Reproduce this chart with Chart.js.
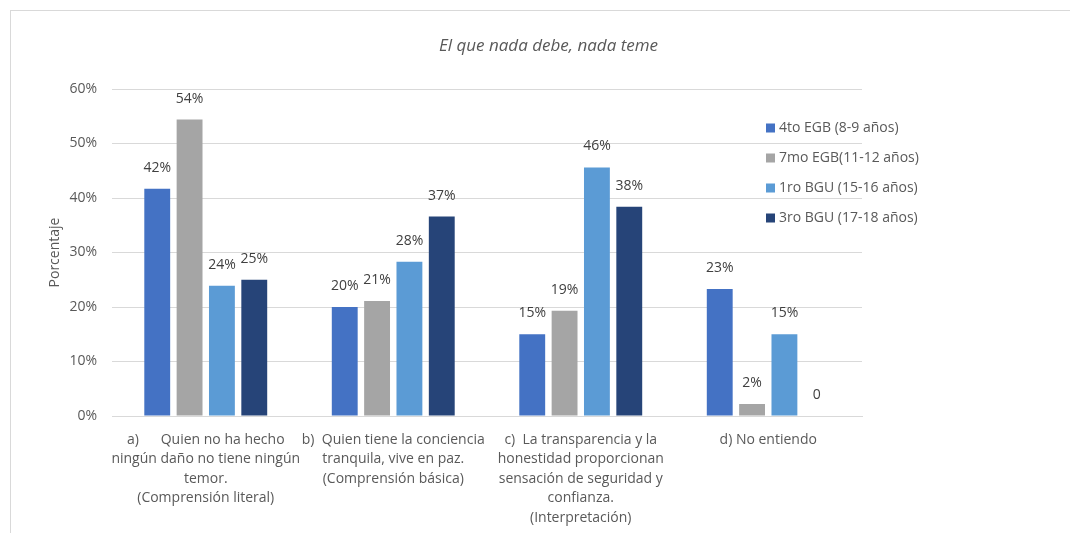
<!DOCTYPE html>
<html>
<head>
<meta charset="utf-8">
<script src="https://cdn.jsdelivr.net/npm/chart.js@4"></script>
<style>
  html, body { margin: 0; padding: 0; background: #fff; overflow: hidden; }
  #box { position: absolute; left: 10px; top: 10px; width: 1070px; height: 540px; border: 1px solid #d9d9d9; }
  #wrap { position: absolute; left: 0; top: 0; width: 1059px; height: 523px; }
</style>
</head>
<body>
<div id="box"><div id="wrap"><canvas id="chart"></canvas></div></div>
<script>
// categorías (etiquetas del eje x, en varias líneas)
const categorias = [
    ['a)      Quien no ha hecho', 'ningún daño no tiene ningún', 'temor.', '(Comprensión literal)'],
    ['b)  Quien tiene la conciencia', 'tranquila, vive en paz.', '(Comprensión básica)'],
    ['c)  La transparencia y la', 'honestidad proporcionan', 'sensación de seguridad y', 'confianza.', '(Interpretación)'],
    ['d) No entiendo']
];
const series = ['4to EGB (8-9 años)', '7mo EGB(11-12 años)', '1ro BGU (15-16 años)', '3ro BGU (17-18 años)'];
const cuartoEGB = [41.7, 20.0, 15.0, 23.3];
const septimoEGB = [54.4, 21.1, 19.3, 2.2];
const primeroBGU = [23.9, 28.3, 45.6, 15.0];
const terceroBGU = [25.0, 36.6, 38.4, 0];
const colores = ['#4472C4', '#A5A5A5', '#5B9BD5', '#264478'];
const yTicks = [0, 10, 20, 30, 40, 50, 60];

const FUENTE = '"Open Sans", Lato, sans-serif';
const GRIS = '#595959';
const TAM = 14;

// etiquetas de datos encima de las barras
const etiquetasDatos = {
    id: 'etiquetasDatos',
    afterDatasetsDraw(chart) {
        const ctx = chart.ctx;
        ctx.save();
        ctx.font = TAM + 'px ' + FUENTE;
        ctx.fillStyle = '#404040';
        ctx.textAlign = 'center';
        ctx.textBaseline = 'middle';
        chart.data.datasets.forEach((ds, i) => {
            chart.getDatasetMeta(i).data.forEach((bar, j) => {
                const v = ds.data[j];
                const txt = v === 0 ? '0' : Math.round(v) + '%';
                ctx.fillText(txt, bar.x, bar.y - 21);
            });
        });
        ctx.restore();
    }
};

// leyenda a la derecha, sobre el área del gráfico
const leyenda = {
    id: 'leyenda',
    afterDraw(chart) {
        const ctx = chart.ctx;
        ctx.save();
        ctx.font = TAM + 'px ' + FUENTE;
        ctx.textBaseline = 'middle';
        chart.data.datasets.forEach((ds, i) => {
            const y = 117 + i * 30;
            ctx.fillStyle = ds.backgroundColor;
            ctx.fillRect(755, y - 4.5, 9, 9);
            ctx.fillStyle = GRIS;
            ctx.fillText(ds.label, 768, y);
        });
        ctx.restore();
    }
};

const datos = [cuartoEGB, septimoEGB, primeroBGU, terceroBGU];

new Chart(document.getElementById('chart'), {
    type: 'bar',
    data: {
        labels: categorias,
        datasets: series.map((nombre, i) => ({
            label: nombre,
            data: datos[i],
            backgroundColor: colores[i],
            categoryPercentage: 0.69,
            barPercentage: 0.8
        }))
    },
    options: {
        responsive: true,
        maintainAspectRatio: false,
        animation: false,
        layout: { padding: { left: 16, right: 0, top: 0, bottom: 0 } },
        plugins: {
            legend: { display: false },
            tooltip: { enabled: false },
            title: {
                display: true,
                text: 'El que nada debe, nada teme',
                color: GRIS,
                font: { family: FUENTE, size: 17, style: 'italic', weight: 'normal' },
                padding: { top: 25, bottom: 32.6 }
            }
        },
        scales: {
            x: {
                grid: { display: false },
                border: { color: '#d9d9d9' },
                ticks: {
                    color: GRIS,
                    autoSkip: false,
                    maxRotation: 0,
                    padding: 6,
                    font: { family: FUENTE, size: TAM, lineHeight: 1.39 }
                },
                afterFit: s => { s.height = 118; }
            },
            y: {
                min: 0,
                max: 60,
                afterBuildTicks: s => { s.ticks = yTicks.map(v => ({ value: v })); },
                grid: { color: '#d9d9d9', drawTicks: false },
                border: { display: false },
                ticks: {
                    color: GRIS,
                    padding: 15,
                    font: { family: FUENTE, size: TAM },
                    callback: v => v + '%'
                },
                title: {
                    display: true,
                    text: 'Porcentaje',
                    color: GRIS,
                    padding: { top: 19.6, bottom: 0 },
                    font: { family: FUENTE, size: TAM }
                },
                afterFit: s => { s.width = 85; }
            },
            // eje vacío que reserva el espacio de la leyenda
            espacio: {
                position: 'right',
                grid: { display: false },
                border: { display: false },
                ticks: { display: false },
                afterFit: s => { s.width = 208; }
            }
        }
    },
    plugins: [etiquetasDatos, leyenda]
});
</script>
</body>
</html>
